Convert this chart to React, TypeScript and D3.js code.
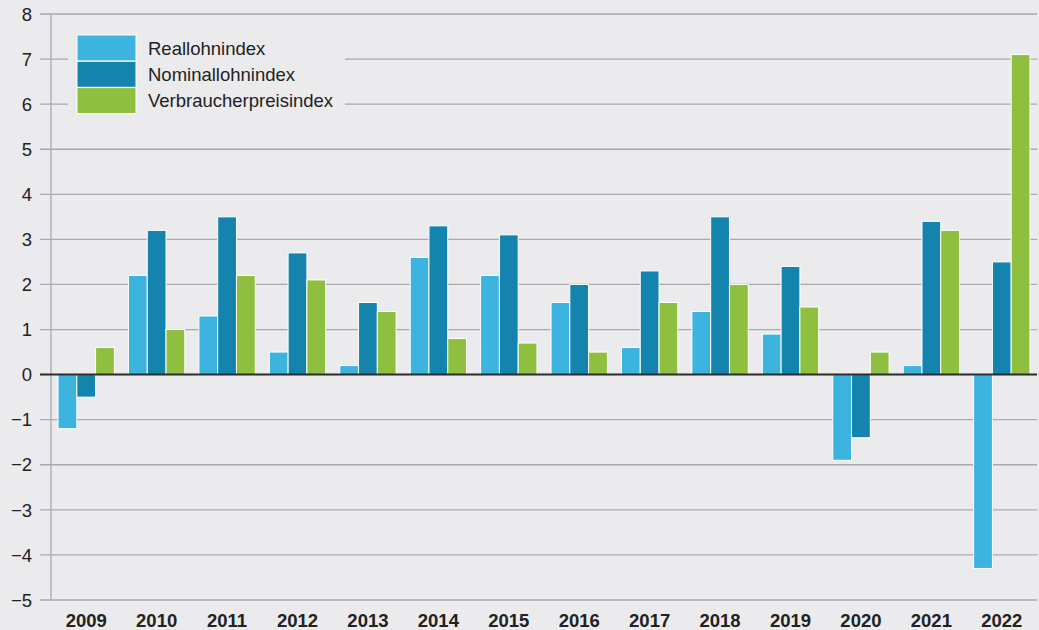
import React, { useEffect, useRef } from 'react';
import * as d3 from 'd3';

const years = ['2009', '2010', '2011', '2012', '2013', '2014', '2015', '2016', '2017', '2018', '2019', '2020', '2021', '2022'];
const reallohn = [-1.2, 2.2, 1.3, 0.5, 0.2, 2.6, 2.2, 1.6, 0.6, 1.4, 0.9, -1.9, 0.2, -4.3];
const nominallohn = [-0.5, 3.2, 3.5, 2.7, 1.6, 3.3, 3.1, 2.0, 2.3, 3.5, 2.4, -1.4, 3.4, 2.5];
const vpi = [0.6, 1.0, 2.2, 2.1, 1.4, 0.8, 0.7, 0.5, 1.6, 2.0, 1.5, 0.5, 3.2, 7.1];
const seriesNames = ['Reallohnindex', 'Nominallohnindex', 'Verbraucherpreisindex'];
const seriesColors = ['#3db3e0', '#1483ad', '#8fbf3f'];
const yTicks = [-5, -4, -3, -2, -1, 0, 1, 2, 3, 4, 5, 6, 7, 8];

const W = 1039;
const H = 630;
const margin = { top: 14, right: 2, bottom: 30, left: 51 };

function Chart() {
    const ref = useRef<SVGSVGElement>(null);

    useEffect(() => {
        const svg = d3.select(ref.current);
        svg.selectAll('*').remove();
        const font = 'Liberation Sans, Arial, sans-serif';

        svg.append('rect').attr('width', W).attr('height', H).attr('fill', '#ebebee');

        const x = d3.scaleBand().domain(years).range([margin.left, W - margin.right]).paddingInner(0.2).paddingOuter(0.1);
        const y = d3.scaleLinear().domain([-5, 8]).range([H - margin.bottom, margin.top]);
        const inner = d3.scaleBand().domain(['0', '1', '2']).range([0, x.bandwidth()]);

        // grid lines + ticks
        const grid = svg.append('g');
        grid.selectAll('line')
            .data(yTicks.filter((d) => d !== 0))
            .join('line')
            .attr('x1', 40)
            .attr('x2', W - 2)
            .attr('y1', (d) => y(d))
            .attr('y2', (d) => y(d))
            .attr('stroke', '#a9a9ab')
            .attr('stroke-width', 1.3);

        grid.selectAll('text')
            .data(yTicks)
            .join('text')
            .attr('x', 32)
            .attr('y', (d) => y(d))
            .attr('dy', '0.36em')
            .attr('text-anchor', 'end')
            .attr('font-family', font)
            .attr('font-size', 18.5)
            .attr('fill', '#222')
            .text((d) => (d < 0 ? '\u2212' + Math.abs(d) : String(d)));

        // y axis line
        svg.append('line')
            .attr('x1', margin.left)
            .attr('x2', margin.left)
            .attr('y1', y(8))
            .attr('y2', y(-5))
            .attr('stroke', '#a9a9ab')
            .attr('stroke-width', 1.3);

        // legend box
        svg.append('rect')
            .attr('x', 68)
            .attr('y', 28)
            .attr('width', 277)
            .attr('height', 90)
            .attr('fill', '#ebebee');

        // bars
        const all = [reallohn, nominallohn, vpi];
        const bars = svg.append('g');
        all.forEach((vals, si) => {
            bars.append('g')
                .selectAll('rect')
                .data(vals)
                .join('rect')
                .attr('x', (d, i) => (x(years[i]) as number) + (inner(String(si)) as number))
                .attr('y', (d) => y(Math.max(0, d)))
                .attr('width', inner.bandwidth())
                .attr('height', (d) => Math.abs(y(d) - y(0)))
                .attr('fill', seriesColors[si])
                .attr('stroke', '#ffffff')
                .attr('stroke-width', 1);
        });

        // zero line
        svg.append('line')
            .attr('x1', 40)
            .attr('x2', W - 2)
            .attr('y1', y(0))
            .attr('y2', y(0))
            .attr('stroke', '#2b2b2b')
            .attr('stroke-width', 2);

        // x labels
        svg.append('g')
            .selectAll('text')
            .data(years)
            .join('text')
            .attr('x', (d) => (x(d) as number) + x.bandwidth() / 2)
            .attr('y', 627)
            .attr('text-anchor', 'middle')
            .attr('font-family', font)
            .attr('font-weight', 'bold')
            .attr('font-size', 18.5)
            .attr('fill', '#222')
            .text((d) => d);

        // legend
        const legend = svg.append('g');
        seriesNames.forEach((name, i) => {
            legend.append('rect')
                .attr('x', 77)
                .attr('y', 35 + i * 26.3)
                .attr('width', 59)
                .attr('height', 26)
                .attr('fill', seriesColors[i])
                .attr('stroke', '#ffffff')
                .attr('stroke-width', 1);
            legend.append('text')
                .attr('x', 148)
                .attr('y', 48 + i * 26.3)
                .attr('dy', '0.36em')
                .attr('font-family', font)
                .attr('font-size', 18.5)
                .attr('fill', '#222')
                .text(name);
        });
    }, []);

    return <svg ref={ref} width={W} height={H} style={{ position: 'absolute', left: 0, top: 0 }}></svg>;
}

export default function App() {
    return <Chart />;
}
